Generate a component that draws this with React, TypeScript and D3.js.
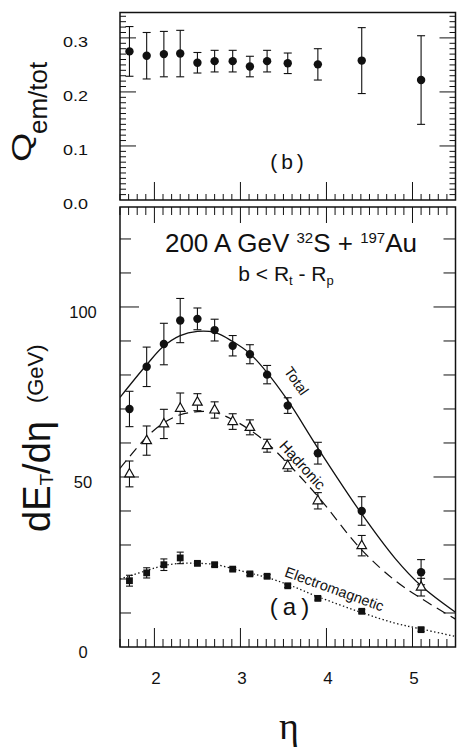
import React from 'react';
import * as d3 from 'd3';

// ---- data ----
const eta = [1.71, 1.91, 2.11, 2.3, 2.5, 2.7, 2.91, 3.11, 3.31, 3.55, 3.9, 4.41, 5.1];

const qRatio = [0.275, 0.267, 0.27, 0.271, 0.254, 0.257, 0.257, 0.247, 0.257, 0.253, 0.251, 0.258, 0.222];
const qErr = [0.046, 0.043, 0.042, 0.043, 0.019, 0.02, 0.02, 0.019, 0.02, 0.019, 0.029, 0.061, 0.082];

const total = [70, 82.4, 89.1, 96, 96.5, 93.2, 88.6, 86.1, 80.1, 71, 57, 40, 22];
const totalErr = [5.2, 5.8, 6.1, 6.5, 3.2, 3.2, 3.0, 2.8, 2.7, 2.3, 3.2, 4.2, 3.7];

const hadronic = [50.9, 60.7, 65.6, 70.2, 72, 69.7, 66.3, 64.6, 59.2, 53.3, 43, 29.8, 17.6];
const hadronicErr = [3.8, 4.3, 4.3, 4.5, 2.5, 2.4, 2.3, 2.2, 1.9, 1.6, 2.4, 3.0, 2.6];

const em = [19.5, 21.8, 24.2, 26.2, 24.6, 24.2, 22.9, 21.5, 20.8, 18, 14.3, 10.5, 5.1];
const emErr = [1.6, 1.5, 1.7, 1.7, 0.5, 0.5, 0.5, 0.5, 0.5, 0.5, 0.5, 0.5, 0.5];

const fitEta = [1.6, 1.9, 2.1, 2.3, 2.5, 2.7, 2.9, 3.1, 3.3, 3.55, 3.9, 4.4, 4.8, 5.1, 5.5];
const fitTotal = [73.4, 82.7, 88.3, 91.6, 92.8, 92.5, 90.0, 86.5, 81, 72.5, 58.5, 39.5, 26, 18, 10.2];
const fitHadronic = [52.5, 61.5, 65.8, 68.3, 69.2, 69, 67, 64, 60.2, 54, 44.3, 28.8, 19.5, 14.3, 8.2];
const fitEm = [20, 22.4, 23.9, 24.6, 24.6, 24.3, 23.1, 21.8, 20.5, 18.4, 14.8, 10.2, 7.0, 5.3, 3.1];

const xTickLabels = [2, 3, 4, 5];
const qTickLabels = [0, 0.1, 0.2, 0.3];
const eTickLabels = [0, 50, 100];

// ---- layout ----
const W = 457;
const H = 748;
const L = 120;
const R = 455.5;
const topT = 12.5;
const topB = 200;
const botT = 207;
const botB = 647;

const FONT = 'Liberation Sans, Arial, Helvetica, sans-serif';
const INK = '#111';

export default function App() {
  const x = d3.scaleLinear().domain([1.6, 5.5]).range([L, R]);
  const yQ = d3.scaleLinear().domain([0, 0.347]).range([topB, topT]);
  const yE = d3.scaleLinear().domain([0, 129.4]).range([botB, botT]);

  const xMinor = d3.range(16, 56).map((i) => ({ v: i / 10, major: i % 10 === 0 }));
  const qMinor = d3.range(1, 35).map((i) => ({ v: i / 100, major: i % 10 === 0 }));
  const eMinor = d3.range(10, 130, 10).map((v) => ({ v, major: v % 50 === 0 }));

  const mkLine = (vals: number[]) =>
    d3
      .line<number>()
      .x((_, i) => x(fitEta[i]))
      .y((d) => yE(d))
      .curve(d3.curveCatmullRom.alpha(0.5))(vals) || '';

  const errBar = (cx: number, y1: number, y2: number, key: string, cap = 4) => (
    <g key={key} stroke={INK} strokeWidth={1.1}>
      <line x1={cx} x2={cx} y1={y1} y2={y2} />
      <line x1={cx - cap} x2={cx + cap} y1={y1} y2={y1} />
      <line x1={cx - cap} x2={cx + cap} y1={y2} y2={y2} />
    </g>
  );

  return (
    <svg
      width={W}
      height={H}
      style={{ position: 'absolute', left: 0, top: 0, background: '#fff' }}
      fontFamily={FONT}
    >
      <defs>
        <clipPath id="botClip">
          <rect x={L} y={botT} width={R - L} height={botB - botT} />
        </clipPath>
      </defs>

      {/* ===== Top panel (b) ===== */}
      <rect x={L} y={topT} width={R - L} height={topB - topT} fill="none" stroke={INK} strokeWidth={1.5} />
      {/* y ticks left / right */}
      {qMinor.map((t) => {
        const yy = yQ(t.v);
        const len = t.major ? 16 : 6;
        return (
          <g key={'qt' + t.v} stroke={INK} strokeWidth={1}>
            <line x1={L} x2={L + len} y1={yy} y2={yy} />
            <line x1={R} x2={R - len} y1={yy} y2={yy} />
          </g>
        );
      })}
      {/* x ticks bottom of top panel */}
      {xMinor.map((t) => {
        const xx = x(t.v);
        return (
          <line key={'xt1' + t.v} x1={xx} x2={xx} y1={topB} y2={topB - (t.major ? 18 : 6)} stroke={INK} strokeWidth={1} />
        );
      })}
      {/* q tick labels */}
      {qTickLabels.map((v) => (
        <text
          key={'ql' + v}
          x={88}
          y={yQ(v) + 9}
          textAnchor="end"
          fontSize={14}
          fill={INK}
          textLength={25}
          lengthAdjust="spacingAndGlyphs"
        >
          {v.toFixed(1)}
        </text>
      ))}
      {/* Q axis title */}
      <text transform="translate(30.5,162) rotate(-90) scale(1.35,1)" fontSize={28} fill={INK}>
        Q
      </text>
      <text transform="translate(47,134) rotate(-90)" fontSize={26} fill={INK}>
        em/tot
      </text>
      {/* Q points */}
      {eta.map((e, i) => errBar(x(e), yQ(qRatio[i] + qErr[i]), yQ(qRatio[i] - qErr[i]), 'qe' + i))}
      {eta.map((e, i) => (
        <circle key={'qp' + i} cx={x(e)} cy={yQ(qRatio[i])} r={4.2} fill={INK} />
      ))}
      <text x={289} y={168.5} textAnchor="middle" fontSize={21} letterSpacing={4} fill={INK}>
        (b)
      </text>

      {/* ===== Bottom panel (a) ===== */}
      <rect x={L} y={botT} width={R - L} height={botB - botT} fill="none" stroke={INK} strokeWidth={1.5} />
      {/* x ticks top & bottom */}
      {xMinor.map((t) => {
        const xx = x(t.v);
        return (
          <g key={'xt2' + t.v} stroke={INK} strokeWidth={1}>
            <line x1={xx} x2={xx} y1={botT} y2={botT + (t.major ? 16 : 8)} />
            <line x1={xx} x2={xx} y1={botB} y2={botB - (t.major ? 19 : 8)} />
          </g>
        );
      })}
      {/* y ticks */}
      {eMinor.map((t) => {
        const yy = yE(t.v);
        return (
          <g key={'et' + t.v} stroke={INK} strokeWidth={1}>
            <line x1={L} x2={L + (t.major ? 19 : 11)} y1={yy} y2={yy} />
            <line x1={R} x2={R - (t.major ? 22 : 12)} y1={yy} y2={yy} />
          </g>
        );
      })}
      {eTickLabels.map((v) => (
        <text key={'el' + v} x={83} y={yE(v) + 11} textAnchor="middle" fontSize={16.5} fill={INK}>
          {v}
        </text>
      ))}
      {xTickLabels.map((v) => (
        <text key={'xl' + v} x={x(v) + 1.5} y={684} textAnchor="middle" fontSize={17} fill={INK}>
          {v}
        </text>
      ))}
      {/* y axis title */}
      <text transform="translate(50,532) rotate(-90)" fill={INK} style={{ whiteSpace: 'pre' }}>
        <tspan fontSize={38}>dE</tspan>
        <tspan fontSize={19} dy={3}>
          T
        </tspan>
        <tspan fontSize={38} dy={-3}>
          /dη
        </tspan>
        <tspan fontSize={22} dx={18} dy={-7}>
          (GeV)
        </tspan>
      </text>
      {/* x axis title */}
      <text x={289} y={739} textAnchor="middle" fontSize={38} fontFamily="Liberation Serif, Times New Roman, serif" fill={INK}>
        η
      </text>

      {/* annotations */}
      <text x={291} y={252} textAnchor="middle" fontSize={26} fill={INK} style={{ whiteSpace: 'pre' }}>
        {'200 A GeV '}
        <tspan fontSize={15} dy={-9}>
          32
        </tspan>
        <tspan dy={9}>{'S + '}</tspan>
        <tspan fontSize={15} dy={-9}>
          197
        </tspan>
        <tspan dy={9}>Au</tspan>
      </text>
      <text x={286} y={281} textAnchor="middle" fontSize={21} fill={INK} style={{ whiteSpace: 'pre' }}>
        {'b < R'}
        <tspan fontSize={13} dy={4}>
          t
        </tspan>
        <tspan dy={-4}>{' - R'}</tspan>
        <tspan fontSize={13} dy={4}>
          p
        </tspan>
      </text>

      {/* fit curves */}
      <g clipPath="url(#botClip)" fill="none" stroke={INK}>
        <path d={mkLine(fitTotal)} strokeWidth={1.3} />
        <path d={mkLine(fitHadronic)} strokeWidth={1.2} strokeDasharray="10,6" />
        <path d={mkLine(fitEm)} strokeWidth={1.3} strokeDasharray="1.4,2.4" />
      </g>

      {/* curve labels */}
      <text transform="translate(296.5,381) rotate(55)" textAnchor="middle" dy="0.35em" fontSize={14.5} fill={INK}>
        Total
      </text>
      <text transform="translate(302.5,465) rotate(48)" textAnchor="middle" dy="0.35em" fontSize={15} fill={INK}>
        Hadronic
      </text>
      <text transform="translate(334.4,589) rotate(20)" textAnchor="middle" dy="0.35em" fontSize={14.5} fill={INK}>
        Electromagnetic
      </text>

      {/* total: filled circles */}
      {eta.map((e, i) => errBar(x(e), yE(total[i] + totalErr[i]), yE(total[i] - totalErr[i]), 'te' + i))}
      {eta.map((e, i) => (
        <circle key={'tp' + i} cx={x(e)} cy={yE(total[i])} r={4.2} fill={INK} />
      ))}

      {/* hadronic: open triangles */}
      {eta.map((e, i) => errBar(x(e), yE(hadronic[i] + hadronicErr[i]), yE(hadronic[i] - hadronicErr[i]), 'he' + i))}
      {eta.map((e, i) => {
        const cx = x(e);
        const cy = yE(hadronic[i]);
        return (
          <path
            key={'hp' + i}
            d={`M${cx},${cy - 5.5}L${cx + 4.8},${cy + 3}L${cx - 4.8},${cy + 3}Z`}
            fill="#fff"
            stroke={INK}
            strokeWidth={1.2}
          />
        );
      })}

      {/* electromagnetic: filled squares */}
      {eta.map((e, i) => errBar(x(e), yE(em[i] + emErr[i]), yE(em[i] - emErr[i]), 'ee' + i, 3.5))}
      {eta.map((e, i) => (
        <rect key={'ep' + i} x={x(e) - 3.4} y={yE(em[i]) - 3.4} width={6.8} height={6.8} fill={INK} />
      ))}

      <text x={292} y={615} textAnchor="middle" fontSize={24} letterSpacing={5} fill={INK}>
        (a)
      </text>
    </svg>
  );
}
